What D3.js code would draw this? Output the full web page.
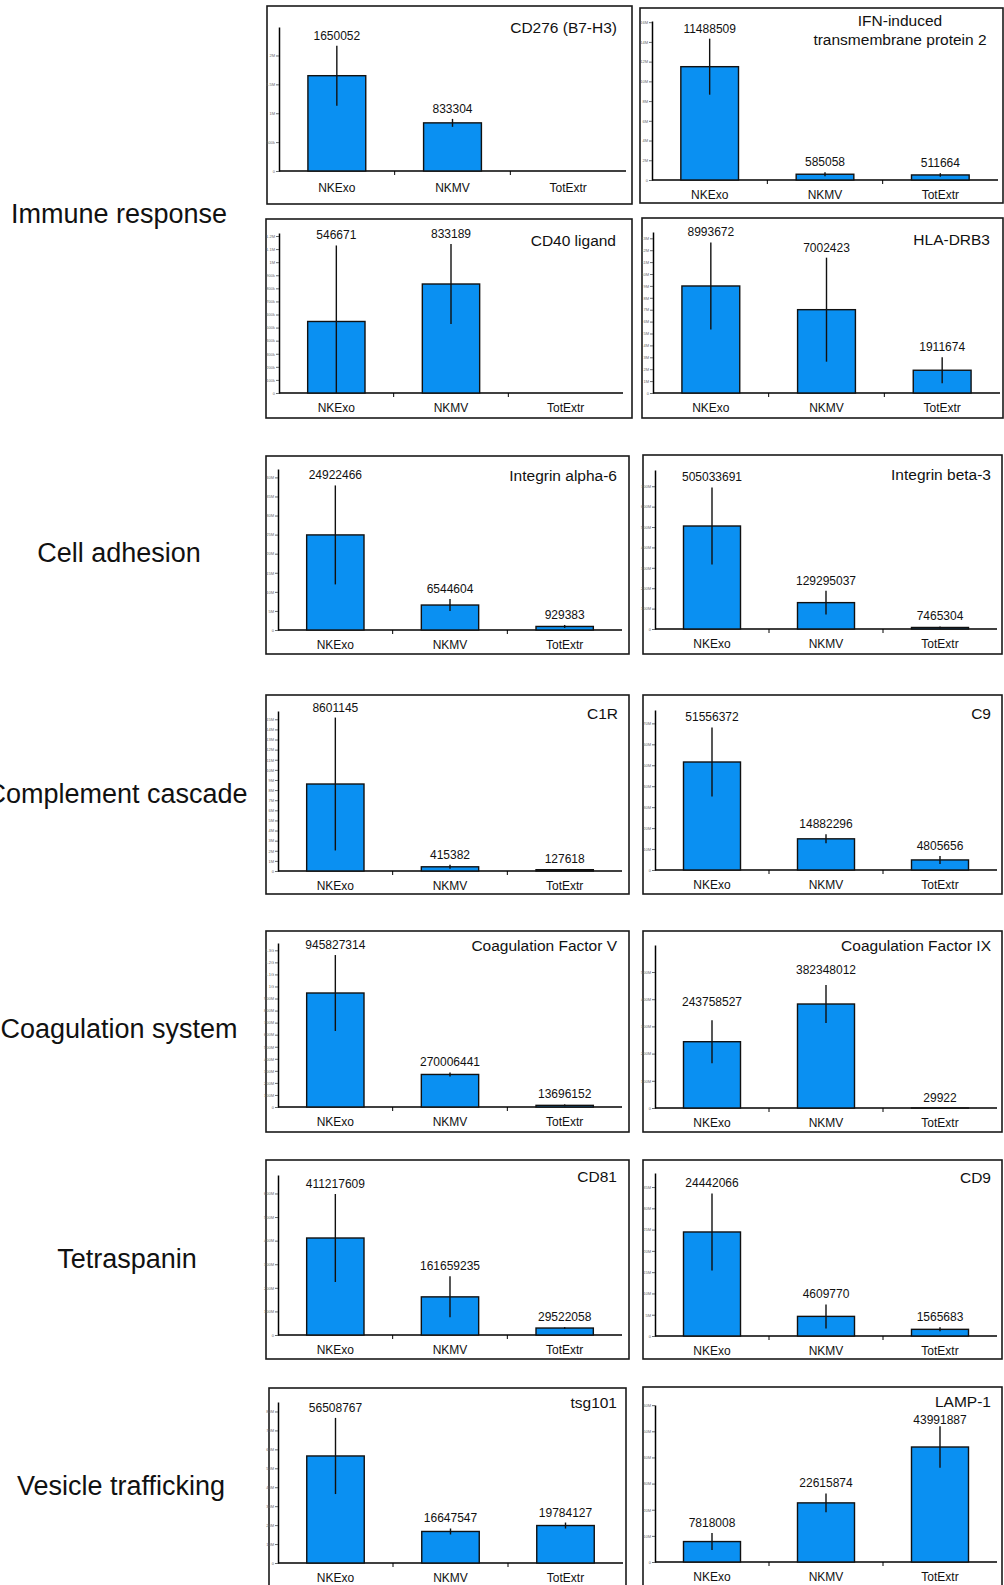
<!DOCTYPE html>
<html>
<head>
<meta charset="utf-8">
<script src="https://cdn.jsdelivr.net/npm/d3@7"></script>
<style>
body { margin: 0; background: #fff; }
svg text { font-family: "Liberation Sans", Arial, sans-serif; }
</style>
</head>
<body>
<script>

var categories = ["NKExo", "NKMV", "TotExtr"];

var groups = ["Immune response", "Cell adhesion", "Complement cascade",
              "Coagulation system", "Tetraspanin", "Vesicle trafficking"];

var proteins = [
    ["CD276 (B7-H3)"], ["IFN-induced", "transmembrane protein 2"],
    ["CD40 ligand"], ["HLA-DRB3"],
    ["Integrin alpha-6"], ["Integrin beta-3"],
    ["C1R"], ["C9"],
    ["Coagulation Factor V"], ["Coagulation Factor IX"],
    ["CD81"], ["CD9"],
    ["tsg101"], ["LAMP-1"]
];

var values = [
    [1650052, 833304, null],
    [11488509, 585058, 511664],
    [546671, 833189, null],
    [8993672, 7002423, 1911674],
    [24922466, 6544604, 929383],
    [505033691, 129295037, 7465304],
    [8601145, 415382, 127618],
    [51556372, 14882296, 4805656],
    [945827314, 270006441, 13696152],
    [243758527, 382348012, 29922],
    [411217609, 161659235, 29522058],
    [24442066, 4609770, 1565683],
    [56508767, 16647547, 19784127],
    [7818008, 22615874, 43991887]
];

// error bar half-lengths
var errors = [
    [519000, 69000, null],
    [2840000, 200000, 180000],
    [581000, 306000, null],
    [3660000, 4370000, 1090000],
    [12970000, 1570000, 390000],
    [188800000, 58800000, 5000000],
    [6570000, 200000, 50000],
    [16470000, 2150000, 1900000],
    [315000000, 16600000, 8000000],
    [79000000, 69900000, 0],
    [186500000, 86900000, 4000000],
    [9050000, 2820000, 470000],
    [20100000, 1580000, 1580000],
    [3250000, 3630000, 7900000]
];

// top of each y axis
var yMax = [2493000, 16120000, 1223000, 13530000, 42200000, 779600000, 15820000,
            76380000, 1360700000, 599300000, 678300000, 38300000, 85000000, 60060000];

var yTicks = [5, 8, 12, 14, 8, 8, 16, 8, 14, 6, 8, 8, 9, 7];

// page geometry (not data)
var layout = [
    {box: [267, 6, 632, 204],     plot: [279, 27, 171, 626],    title: [617, 32.5], cat: 20.5},
    {box: [640, 8, 1003, 203],    plot: [652, 21, 180, 998],    title: [900, 25.5]},
    {box: [266, 219, 632, 418],   plot: [279, 233, 393, 623],   title: [616, 245.5]},
    {box: [642, 218, 1003, 418],  plot: [653, 232, 393, 1000],  title: [990, 244.5]},
    {box: [266, 456, 629, 654],   plot: [278, 469, 630, 622],   title: [617, 480.5]},
    {box: [643, 455, 1002, 654],  plot: [655, 470, 629, 997],   title: [991, 479.5]},
    {box: [266, 695, 629, 894],   plot: [278, 711, 871, 622],   title: [618, 718.5]},
    {box: [643, 695, 1002, 894],  plot: [655, 710, 870, 997],   title: [991, 718.5]},
    {box: [266, 931, 629, 1132],  plot: [278, 943, 1107, 622],  title: [617, 950.5]},
    {box: [643, 931, 1002, 1132], plot: [655, 945, 1108, 997],  title: [991, 950.5], lab: [-8, -5, 0]},
    {box: [266, 1160, 629, 1359], plot: [278, 1175, 1335, 622], title: [617, 1181.5]},
    {box: [643, 1160, 1002, 1359],plot: [655, 1173, 1336, 997], title: [991, 1182.5]},
    {box: [269, 1388, 626, 1587], plot: [278, 1402, 1563, 623], title: [617, 1407.5]},
    {box: [643, 1387, 1002, 1587],plot: [655, 1405, 1562, 997], title: [991, 1406.5], lab: [0, 0, 4]}
];

var groupPos = [[119, 223], [119, 562], [117, 803], [119, 1038], [127, 1268], [121, 1495]];

var BLUE = '#0a90f2';

Figure = function() {
    var obj = {
        svg: d3.select("body").append("svg:svg")
                .attr('width', 1004).attr('height', 1585),
        children: []
    };
    obj.append = function(child) {
        this.children.push(child);
        child.parent = this;
        child.draw();
    };
    return obj;
};

GroupLabel = function(i) {
    var obj = {i: i};
    obj.draw = function() {
        this.parent.svg.append('svg:text')
            .attr('x', groupPos[i][0])
            .attr('y', groupPos[i][1])
            .attr('text-anchor', 'middle')
            .attr('font-size', '27px')
            .attr('fill', '#111')
            .text(groups[i]);
    };
    return obj;
};

Panel = function(i) {
    var obj = {i: i};

    obj.draw = function() {
        var L = layout[i];
        var svg = this.parent.svg;
        var g = svg.append('svg:g');
        var lab = L.lab || [0, 0, 0];

        var x = d3.scaleBand().domain(categories)
            .range([L.plot[0], L.plot[3]])
            .paddingInner(0.5).paddingOuter(0.25);
        var y = d3.scaleLinear().domain([0, yMax[i]])
            .range([L.plot[2], L.plot[1]]);

        g.append('svg:rect')
            .attr('x', L.box[0]).attr('y', L.box[1])
            .attr('width', L.box[2] - L.box[0])
            .attr('height', L.box[3] - L.box[1])
            .attr('fill', '#fff')
            .attr('stroke', '#1a1a1a')
            .attr('stroke-width', 1.6);

        // y axis with its tiny tick labels
        var ya = g.append('svg:g')
            .attr('transform', 'translate(' + L.plot[0] + ',0)')
            .call(d3.axisLeft(y).ticks(yTicks[i]).tickSize(3).tickSizeOuter(0)
                    .tickFormat(d3.format('.2~s')));
        ya.select('.domain').attr('stroke', '#000').attr('stroke-width', 1.5);
        ya.selectAll('.tick line').attr('stroke', '#444').attr('stroke-width', 0.8);
        ya.selectAll('.tick text').attr('font-size', '4px').attr('fill', '#666').attr('x', -4);

        // x axis
        g.append('svg:line')
            .attr('x1', L.plot[0]).attr('x2', L.plot[3])
            .attr('y1', y(0)).attr('y2', y(0))
            .attr('stroke', '#000').attr('stroke-width', 1.5);
        var step = x.step();
        for (var k = 1; k < categories.length; k++) {
            g.append('svg:line')
                .attr('x1', L.plot[0] + k * step).attr('x2', L.plot[0] + k * step)
                .attr('y1', y(0)).attr('y2', y(0) + 4)
                .attr('stroke', '#000').attr('stroke-width', 1);
        }

        g.selectAll('.cat').data(categories).enter().append('svg:text')
            .attr('x', function(d) { return x(d) + x.bandwidth() / 2; })
            .attr('y', y(0) + (L.cat || 18.5))
            .attr('text-anchor', 'middle')
            .attr('font-size', '12px')
            .attr('fill', '#111')
            .text(function(d) { return d; });

        var rows = categories.map(function(c, k) {
            return {cat: c, v: values[i][k], e: errors[i][k], dy: lab[k]};
        }).filter(function(d) { return d.v !== null; });

        g.selectAll('.bar').data(rows).enter().append('svg:rect')
            .attr('x', function(d) { return x(d.cat); })
            .attr('y', function(d) { return y(d.v); })
            .attr('width', x.bandwidth())
            .attr('height', function(d) { return y(0) - y(d.v); })
            .attr('fill', BLUE)
            .attr('stroke', '#111')
            .attr('stroke-width', 1.4);

        g.selectAll('.err').data(rows).enter().append('svg:line')
            .attr('x1', function(d) { return x(d.cat) + x.bandwidth() / 2; })
            .attr('x2', function(d) { return x(d.cat) + x.bandwidth() / 2; })
            .attr('y1', function(d) { return y(Math.max(0, d.v - d.e)); })
            .attr('y2', function(d) { return y(d.v + d.e); })
            .attr('stroke', '#111')
            .attr('stroke-width', 1.4);

        g.selectAll('.val').data(rows).enter().append('svg:text')
            .attr('x', function(d) { return x(d.cat) + x.bandwidth() / 2; })
            .attr('y', function(d) { return y(d.v + d.e) - 6 + d.dy; })
            .attr('text-anchor', 'middle')
            .attr('font-size', '12px')
            .attr('fill', '#111')
            .text(function(d) { return d.v; });

        var lines = proteins[i];
        g.selectAll('.ttl').data(lines).enter().append('svg:text')
            .attr('x', L.title[0])
            .attr('y', function(d, k) { return L.title[1] + k * 19; })
            .attr('text-anchor', lines.length > 1 ? 'middle' : 'end')
            .attr('font-size', '15.5px')
            .attr('fill', '#111')
            .text(function(d) { return d; });
    };

    return obj;
};

var fig = Figure();
for (var gi = 0; gi < groups.length; gi++) fig.append(GroupLabel(gi));
for (var pi = 0; pi < proteins.length; pi++) fig.append(Panel(pi));

</script>
</body>
</html>
